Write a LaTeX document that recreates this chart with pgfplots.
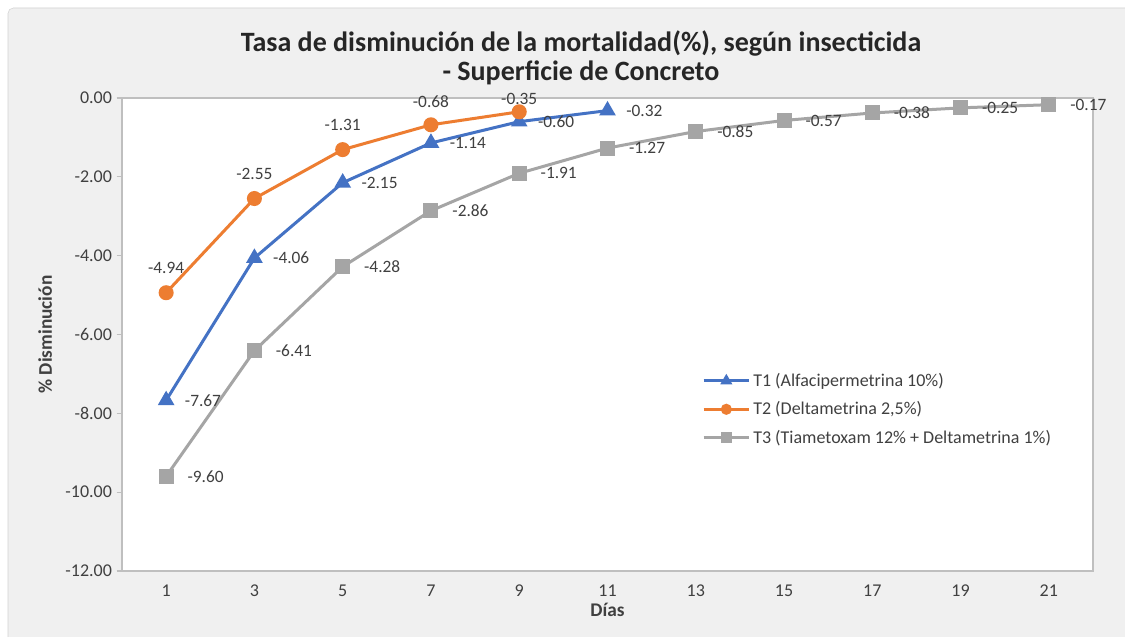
\documentclass[border=0pt]{standalone}
\usepackage{fontspec}
\setmainfont{Carlito}
\usepackage{pgfplots}
\pgfplotsset{compat=1.18}
\definecolor{cT1}{HTML}{4472C4}
\definecolor{cT2}{HTML}{ED7D31}
\definecolor{cT3}{HTML}{A5A5A5}
\definecolor{bgc}{HTML}{F0F0F0}
\definecolor{txt}{HTML}{404040}
\definecolor{axc}{HTML}{BFBFBF}
\begin{document}
\begin{tikzpicture}[x=0.75pt,y=0.75pt]
\useasboundingbox (0,0) rectangle (1125,636);
\fill[white] (0,0) rectangle (1125,636);
\begin{scope}
\clip (0,0) rectangle (1125,636);
\draw[draw=gray!35, fill=bgc, rounded corners=4pt] (8,-10) rectangle (1140,628);
\end{scope}
\node[font=\bfseries\fontsize{21}{22}\selectfont, text=black!85, align=center] at (581,578) {Tasa de disminución de la mortalidad(\%), según insecticida\\- Superficie de Concreto};
\begin{axis}[
  at={(91.5pt,48.75pt)}, anchor=south west, scale only axis,
  width=728.25pt, height=354.75pt,
  xmin=0, xmax=22, ymin=-12, ymax=0,
  xtick={1,3,...,21}, ytick={-12,-10,...,0},
  axis background/.style={fill=white},
  axis line style={draw=axc, line width=0.8pt},
  x tick style={draw=none},
  y tick style={draw=axc, line width=0.8pt},
  tick align=outside, major tick length=4pt,
  xtick pos=bottom, ytick pos=left,
  y tick label style={/pgf/number format/.cd, fixed, fixed zerofill, precision=2, assume math mode=true},
  x tick label style={/pgf/number format/assume math mode=true, yshift=-3pt},
  tick label style={font=\fontsize{13.5}{15}\selectfont, text=txt},
  every axis y label/.style={at={(axis description cs:-0.079,0.5)}, rotate=90, anchor=center, font=\bfseries\fontsize{14.5}{16}\selectfont, text=txt},
  every axis x label/.style={at={(axis description cs:0.5,-0.0825)}, anchor=center, font=\bfseries\fontsize{14.5}{16}\selectfont, text=txt},
  ylabel={\% Disminución}, xlabel={Días},
  legend style={at={(axis description cs:0.593,0.43)}, anchor=north west, draw=none, fill=none, font=\fontsize{13.5}{15}\selectfont, text=txt, row sep=6pt},
  legend cell align=left,
  legend image code/.code={\draw[mark repeat=2,mark phase=2,#1,mark size=3pt] plot coordinates {(0cm,0cm) (0.6cm,0cm) (1.2cm,0cm)};},
  clip=false,
]
\addplot[cT1, line width=2.25pt, mark=triangle*, mark size=5pt, mark options={solid},
  nodes near coords, point meta=explicit symbolic,
  nodes near coords align={anchor=west},
  every node near coord/.append style={anchor=west, xshift=12pt, font=\fontsize{13}{14}\selectfont, text=txt, inner sep=1pt}]
  table[meta=lab] {
x y lab
1 -7.67 -7.67
3 -4.06 -4.06
5 -2.15 -2.15
7 -1.14 -1.14
9 -0.60 -0.60
11 -0.32 -0.32
};
\addlegendentry{T1 (Alfacipermetrina 10\%)}
\addplot[cT2, line width=2.25pt, mark=*, mark size=4.5pt, mark options={solid},
  nodes near coords, point meta=explicit symbolic,
  visualization depends on={\thisrow{dy} \as \labdy},
  nodes near coords align={anchor=south},
  every node near coord/.append style={anchor=south, yshift=\labdy pt, font=\fontsize{13}{14}\selectfont, text=txt, inner sep=1pt}]
  table[meta=lab] {
x y lab dy
1 -4.94 -4.94 12
3 -2.55 -2.55 12
5 -1.31 -1.31 12
7 -0.68 -0.68 11
9 -0.35 -0.35 3
};
\addlegendentry{T2 (Deltametrina 2,5\%)}
\addplot[cT3, line width=2.25pt, mark=square*, mark size=4.5pt, mark options={solid},
  nodes near coords, point meta=explicit symbolic,
  nodes near coords align={anchor=west},
  every node near coord/.append style={anchor=west, xshift=14pt, font=\fontsize{13}{14}\selectfont, text=txt, inner sep=1pt}]
  table[meta=lab] {
x y lab
1 -9.60 -9.60
3 -6.41 -6.41
5 -4.28 -4.28
7 -2.86 -2.86
9 -1.91 -1.91
11 -1.27 -1.27
13 -0.85 -0.85
15 -0.57 -0.57
17 -0.38 -0.38
19 -0.25 -0.25
21 -0.17 -0.17
};
\addlegendentry{T3 (Tiametoxam 12\% + Deltametrina 1\%)}
\end{axis}
\end{tikzpicture}
\end{document}
